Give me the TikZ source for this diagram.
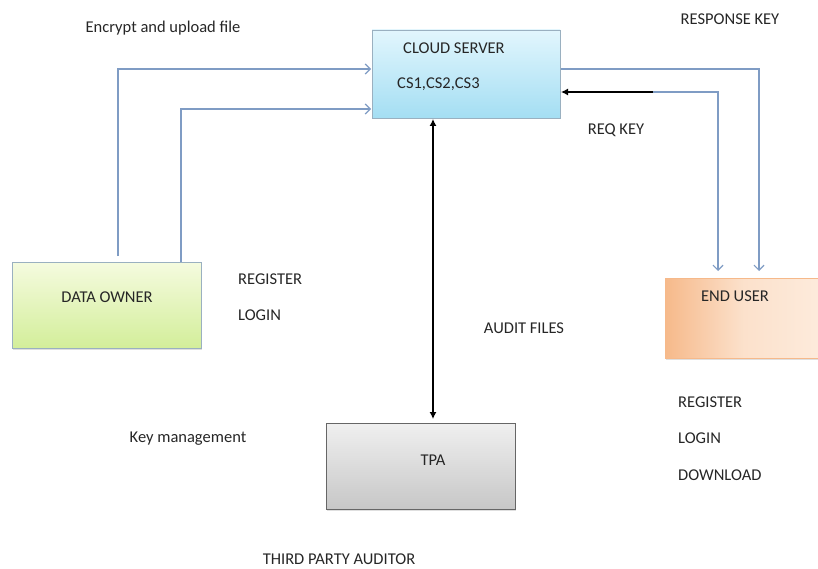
\documentclass[tikz,border=0pt]{standalone}
\usepackage{fontspec}
\setmainfont{Carlito}
\usetikzlibrary{arrows.meta,shadows}
\definecolor{flow}{HTML}{7F9CC4}
\definecolor{edge}{HTML}{9AB0C0}
\definecolor{cloudtop}{HTML}{E2F6FD}
\definecolor{cloudbot}{HTML}{A4DEF3}
\definecolor{owntop}{HTML}{F5FBDF}
\definecolor{ownbot}{HTML}{D3EE9A}
\definecolor{usrleft}{HTML}{F6B98A}
\definecolor{usrright}{HTML}{FDEBDC}
\tikzset{
  box/.style={draw=edge, line width=0.8pt, drop shadow={shadow xshift=1pt,shadow yshift=-1.5pt,opacity=0.25}},
  lbl/.style={font=\fontsize{16.5}{19}\selectfont, inner sep=0pt, text=black!85},
  bluearrow/.style={draw=flow, line width=1.2pt, -{Straight Barb[length=5pt,width=10pt]}},
  blackarrow/.style={draw=black, line width=1.2pt, -{Latex[length=7pt,width=7pt]}},
}
\begin{document}
\begin{tikzpicture}[x=1pt,y=-1pt]
\useasboundingbox (0,0) rectangle (818,569);
% boxes
\path[box, top color=cloudtop, bottom color=cloudbot] (372,30) rectangle (560,118);
\node (cloud) [minimum width=188pt, minimum height=88pt, inner sep=0pt] at (466,74) {};
\node[lbl, anchor=west] (cloudtxt) at (403,48) {CLOUD SERVER};
\node[lbl, anchor=west] (cstxt) at (397,84) {CS1,CS2,CS3};

\path[box, top color=owntop, bottom color=ownbot] (12,262) rectangle (201,348);
\node (owner) [minimum width=189pt, minimum height=86pt, inner sep=0pt] at (106.5,305) {};
\node[lbl] (ownertxt) at (107,297) {DATA OWNER};

\path[box, draw=usrleft, left color=usrleft, right color=usrright, middle color=usrright!80!usrleft] (665,278) rectangle (822,358);
\node (user) [minimum width=157pt, minimum height=80pt, inner sep=0pt] at (743.5,318) {};
\node[lbl] (usertxt) at (735,296) {END USER};

\path[box, draw=black!60, top color=black!6, bottom color=black!22] (326,423) rectangle (515,509);
\node (tpa) [minimum width=189pt, minimum height=86pt, inner sep=0pt] at (420.5,466) {};
\node[lbl] (tpatxt) at (433,460) {TPA};

% coordinates
\coordinate (o1) at (118,256);
\coordinate (o2) at (181,262);
\coordinate (c1) at (371,69);
\coordinate (c2) at (371,109);
\coordinate (cr1) at (561,69);
\coordinate (cr2) at (561,92);
\coordinate (u1) at (718,271);
\coordinate (u2) at (759,271);
\coordinate (ct) at (433,119);
\coordinate (tt) at (433,419);
\coordinate (rk) at (653,92);

% connectors
\draw[bluearrow] (o1) |- (c1);
\draw[bluearrow] (o2) |- (c2);
\draw[bluearrow] (cr1) -| (u2);
\draw[bluearrow] (rk) -| (u1);
\draw[blackarrow] (rk) -- (cr2);
\draw[draw=black, line width=1.2pt, {Latex[length=7pt,width=7pt]}-{Latex[length=7pt,width=7pt]}] (ct) -- (tt);

% labels
\node[lbl] (l1) at (163,28) {Encrypt and upload file};
\node[lbl] (l2) at (730,19) {RESPONSE KEY};
\node[lbl] (l3) at (616,130) {REQ KEY};
\node[lbl, anchor=west] (l4) at (238,279) {REGISTER};
\node[lbl, anchor=west] (l5) at (238,315) {LOGIN};
\node[lbl] (l6) at (524,328) {AUDIT FILES};
\node[lbl] (l7) at (188,439) {Key management};
\node[lbl, anchor=west] (l8) at (678,402) {REGISTER};
\node[lbl, anchor=west] (l9) at (678,438) {LOGIN};
\node[lbl, anchor=west] (l10) at (678,475) {DOWNLOAD};
\node[lbl] (l11) at (339,559) {THIRD PARTY AUDITOR};
\end{tikzpicture}
\end{document}
